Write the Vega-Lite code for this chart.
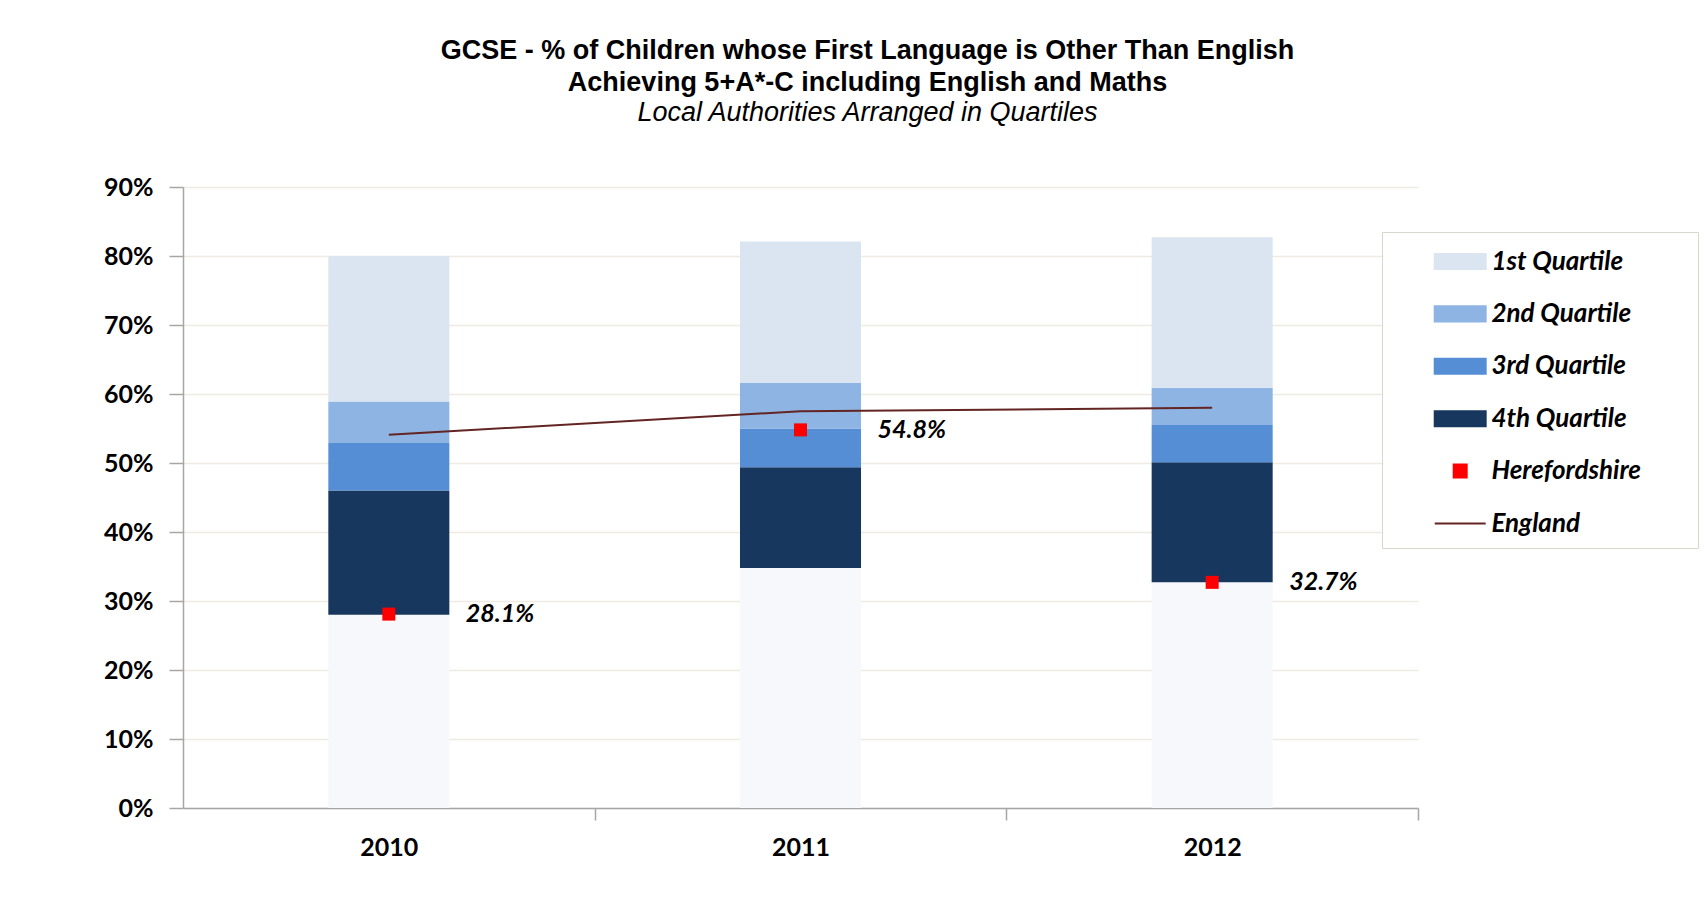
{
  "$schema": "https://vega.github.io/schema/vega-lite/v6.json",
  "width": 1235,
  "height": 621,
  "autosize": {"type": "none"},
  "padding": {"left": 183, "top": 187, "right": 286, "bottom": 107},
  "background": "white",
  "config": {
    "view": {"stroke": null},
    "axis": {
      "labelFont": "Lato",
      "labelFontSize": 25,
      "labelFontWeight": "bold",
      "labelColor": "black",
      "domainColor": "#A6A6A6",
      "tickColor": "#A6A6A6",
      "domainWidth": 1.5,
      "tickWidth": 1.5
    }
  },
  "title": {
    "text": ["GCSE - % of Children whose First Language is Other Than English", "Achieving 5+A*-C including English and Maths"],
    "subtitle": "Local Authorities Arranged in Quartiles",
    "font": "Liberation Sans",
    "fontSize": 27,
    "fontWeight": "bold",
    "color": "black",
    "lineHeight": 32,
    "subtitleFont": "Liberation Sans",
    "subtitleFontSize": 27,
    "subtitleFontStyle": "italic",
    "subtitleFontWeight": "normal",
    "subtitleColor": "black",
    "subtitlePadding": 3,
    "anchor": "middle",
    "dx": 67,
    "offset": 48
  },
  "datasets": {
    "base": [
      {"year": "2010", "lo": 0, "hi": 0.280},
      {"year": "2011", "lo": 0, "hi": 0.348},
      {"year": "2012", "lo": 0, "hi": 0.327}
    ],
    "bands": [
      {"year": "2010", "series": "4th Quartile", "lo": 0.280, "hi": 0.460},
      {"year": "2010", "series": "3rd Quartile", "lo": 0.460, "hi": 0.529},
      {"year": "2010", "series": "2nd Quartile", "lo": 0.529, "hi": 0.589},
      {"year": "2010", "series": "1st Quartile", "lo": 0.589, "hi": 0.800},
      {"year": "2011", "series": "4th Quartile", "lo": 0.348, "hi": 0.494},
      {"year": "2011", "series": "3rd Quartile", "lo": 0.494, "hi": 0.550},
      {"year": "2011", "series": "2nd Quartile", "lo": 0.550, "hi": 0.616},
      {"year": "2011", "series": "1st Quartile", "lo": 0.616, "hi": 0.821},
      {"year": "2012", "series": "4th Quartile", "lo": 0.327, "hi": 0.501},
      {"year": "2012", "series": "3rd Quartile", "lo": 0.501, "hi": 0.555},
      {"year": "2012", "series": "2nd Quartile", "lo": 0.555, "hi": 0.609},
      {"year": "2012", "series": "1st Quartile", "lo": 0.609, "hi": 0.827}
    ],
    "england": [
      {"year": "2010", "value": 0.541},
      {"year": "2011", "value": 0.575},
      {"year": "2012", "value": 0.580}
    ],
    "hereford": [
      {"year": "2010", "value": 0.281},
      {"year": "2011", "value": 0.548},
      {"year": "2012", "value": 0.327}
    ]
  },
  "layer": [
    {
      "data": {"name": "base"},
      "mark": {"type": "bar", "color": "#F6F8FB"},
      "encoding": {
        "x": {
          "field": "year", "type": "nominal", "title": null,
          "scale": {"paddingInner": 0.706, "paddingOuter": 0.353},
          "axis": {"bandPosition": 1, "tickOffset": 145.3, "labelOffset": -145.3, "tickSize": 12, "labelPadding": 15, "labelAngle": 0, "grid": false}
        },
        "y": {
          "field": "lo", "type": "quantitative", "title": null,
          "scale": {"domain": [0, 0.9], "nice": false},
          "axis": {"values": [0, 0.1, 0.2, 0.3, 0.4, 0.5, 0.6, 0.7, 0.8, 0.9], "format": ".0%", "tickSize": 14, "labelPadding": 16, "grid": true, "gridColor": "#EEECE1", "gridWidth": 1.5}
        },
        "y2": {"field": "hi"}
      }
    },
    {
      "data": {"name": "bands"},
      "mark": {"type": "bar"},
      "encoding": {
        "x": {"field": "year", "type": "nominal", "title": null},
        "y": {"field": "lo", "type": "quantitative", "title": null},
        "y2": {"field": "hi"},
        "color": {
          "field": "series", "type": "nominal",
          "scale": {
            "domain": ["1st Quartile", "2nd Quartile", "3rd Quartile", "4th Quartile", "Herefordshire", "England"],
            "range": ["#DBE5F1", "#8EB4E3", "#558ED5", "#17375E", "#FF0000", "#632523"]
          },
          "legend": {
            "orient": "none",
            "legendX": 1199,
            "legendY": 45,
            "title": null,
            "padding": 2.5,
            "fillColor": "white",
            "strokeColor": "#D9D7CA",
            "symbolSize": 2704,
            "symbolStrokeWidth": 2,
            "rowPadding": 0.4,
            "symbolOffset": 48.7,
            "labelOffset": 4.2,
            "labelFont": "Lato",
            "labelFontSize": 26,
            "labelFontWeight": "bold",
            "labelFontStyle": "italic",
            "labelColor": "black",
            "labelLimit": 400,
            "encode": {
              "symbols": {
                "update": {
                  "shape": {"signal": "(datum.value === 'England' ? 'M-0.98,0H0.98' : datum.value === 'Herefordshire' ? 'M-0.25,-0.25H0.25V0.25H-0.25Z' : 'M-0.98,-0.29H0.98V0.29H-0.98Z') + ' M-2.91,-1L-2.91,-1 M8.86,0.692L8.86,0.692'"},
                  "size": {"value": 2704},
                  "fill": {"signal": "datum.value === 'England' ? 'transparent' : scale('color', datum.value)"},
                  "stroke": {"signal": "datum.value === 'England' ? '#632523' : 'transparent'"},
                  "strokeWidth": {"value": 2},
                  "strokeCap": {"value": "butt"},
                  "opacity": {"value": 1}
                }
              }
            }
          }
        }
      }
    },
    {
      "data": {"name": "england"},
      "mark": {"type": "line", "strokeWidth": 2},
      "encoding": {
        "x": {"field": "year", "type": "nominal", "title": null},
        "y": {"field": "value", "type": "quantitative", "title": null},
        "color": {"datum": "England", "type": "nominal"}
      }
    },
    {
      "data": {"name": "hereford"},
      "mark": {"type": "point", "shape": "square", "filled": true, "size": 169, "opacity": 1},
      "encoding": {
        "x": {"field": "year", "type": "nominal", "title": null},
        "y": {"field": "value", "type": "quantitative", "title": null},
        "color": {"datum": "Herefordshire", "type": "nominal"}
      }
    },
    {
      "data": {"name": "hereford"},
      "mark": {"type": "text", "align": "left", "baseline": "middle", "dx": 77, "dy": 0, "font": "Lato", "fontSize": 25, "fontWeight": "bold", "fontStyle": "italic", "color": "black"},
      "encoding": {
        "x": {"field": "year", "type": "nominal", "title": null},
        "y": {"field": "value", "type": "quantitative", "title": null},
        "text": {"field": "value", "type": "quantitative", "format": ".1%"}
      }
    }
  ]
}
